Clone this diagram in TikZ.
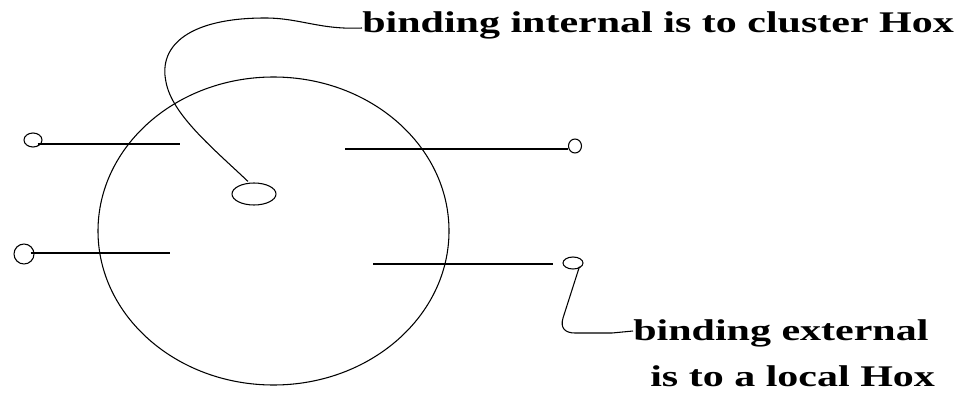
\documentclass[tikz,border=0pt]{standalone}
\usepackage{fontspec}
\setmainfont{Liberation Serif}
\newfontfamily\lblfont[FakeStretch=1.4]{Liberation Serif}
\usetikzlibrary{shapes.geometric}
\begin{document}
\begin{tikzpicture}[x=0.75pt,y=-0.75pt,
  ln/.style={line width=0.8pt,black},
  blob/.style={draw,ellipse,line width=0.8pt,inner sep=0pt},
  lbl/.style={inner sep=0pt,font=\lblfont\bfseries\fontsize{22.5}{36}\selectfont,align=left}]
\useasboundingbox[fill=white] (0,0) rectangle (955,392);
% big cell (sizes in pt = px * 0.75)
\node[blob,minimum width=263.25pt,minimum height=231pt] (cell) at (273.5,231) {};
% small blobs
\node[blob,minimum width=13.5pt,minimum height=10.5pt] (c1) at (33,140) {};
\node[blob,minimum width=15pt,minimum height=15pt] (c2) at (24,254) {};
\node[blob,minimum width=9.75pt,minimum height=10.5pt] (c3) at (575,146) {};
\node[blob,minimum width=15pt,minimum height=9pt] (c4) at (573,263) {};
\node[blob,minimum width=33pt,minimum height=16.5pt] (ce) at (254,194) {};
% inner line ends
\coordinate (e1) at (180,144);
\coordinate (e2) at (170,253);
\coordinate (e3) at (345,149);
\coordinate (e4) at (373,264);
\draw[ln] (c1.south east |- e1) ++(-2,0) -- (e1);
\draw[ln] (c2.east |- e2) ++(-4,0) -- (e2);
\draw[ln] (e3) -- (e3 -| c3.west);
\draw[ln] (e4) -- (553,264);
% labels
\node[lbl,anchor=base west] (t1) at (362,33) {binding internal is to cluster Hox};
\node[lbl,anchor=base west] (t2) at (633,340) {binding external};
\node[lbl,anchor=base west] (t3) at (650,386) {is to a local Hox};
% pointer curves
\draw[ln] (ce.north) ++(-6,-1) .. controls (215,150) and (172,115) .. (166,82)
  .. controls (158,45) and (190,18) .. (265,18)
  .. controls (300,18) and (320,30) .. (t1.west |- 0,28);
\draw[ln] (c4.south east) ++(-1,-1) -- (563,318) .. controls (560,328) and (565,333) .. (575,333) -- (612,333) -- (t2.west |- 0,331);
\end{tikzpicture}
\end{document}
